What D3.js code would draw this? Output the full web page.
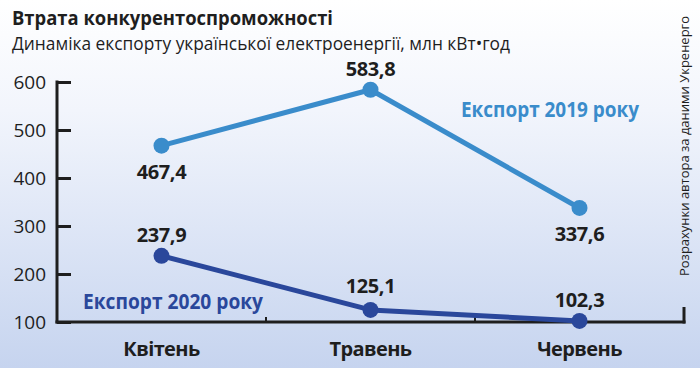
<!DOCTYPE html>
<html><head><meta charset="utf-8">
<script src="https://cdn.jsdelivr.net/npm/d3@7"></script>
<style>body{margin:0;}svg{display:block;}</style>
</head><body>
<svg id="c" width="700" height="368"></svg>
<script>
const months = ["Квітень","Травень","Червень"];
const export2019 = [467.4, 583.8, 337.6];
const export2020 = [237.9, 125.1, 102.3];
const yTicks = [100,200,300,400,500,600];
const labels2019 = ["467,4","583,8","337,6"];
const labels2020 = ["237,9","125,1","102,3"];

const svg = d3.select("#c");
const W = 700, H = 368;
const defs = svg.append("defs");
const g = defs.append("linearGradient").attr("id","bg").attr("x1",0).attr("y1",0).attr("x2",0).attr("y2",1);
g.append("stop").attr("offset","0%").attr("stop-color","#ffffff");
g.append("stop").attr("offset","30%").attr("stop-color","#f2f5fc");
g.append("stop").attr("offset","100%").attr("stop-color","#c6d4ef");
svg.append("rect").attr("width",W).attr("height",H).attr("fill","url(#bg)");

const font = "'Open Sans', 'Noto Sans', sans-serif";
const dark = "#1e1e1e";
const c19 = "#3a8ccb", c20 = "#2a479b";

svg.append("text").attr("x",12).attr("y",25).attr("font-family",font).attr("font-weight","bold")
  .attr("font-size",19.5).attr("fill",dark).attr("textLength",321).attr("lengthAdjust","spacingAndGlyphs")
  .text("Втрата конкурентоспроможності");
svg.append("text").attr("x",12).attr("y",50).attr("font-family",font)
  .attr("font-size",17.5).attr("fill",dark).attr("textLength",498).attr("lengthAdjust","spacingAndGlyphs")
  .text("Динаміка експорту української електроенергії, млн кВт•год");

const x = d3.scaleBand().domain(months).range([57,684]);
const y = d3.scaleLinear().domain([100,600]).range([322,82]);

// y axis
const yAxis = svg.append("g").attr("transform","translate(57,0)")
  .call(d3.axisRight(y).tickValues(yTicks).tickSize(14).tickFormat(""));
yAxis.select(".domain").remove();
yAxis.selectAll("line").attr("stroke",dark).attr("stroke-width",3);
svg.append("line").attr("x1",57).attr("x2",57).attr("y1",y(600)-1.5).attr("y2",y(100)+1.5).attr("stroke",dark).attr("stroke-width",3);
svg.append("g").selectAll("text").data(yTicks).join("text")
  .attr("x",46).attr("y",d=>y(d)+7).attr("text-anchor","end").attr("font-family",font)
  .attr("font-size",19).attr("fill",dark).text(d=>d);

// x axis
svg.append("line").attr("x1",55.5).attr("x2",685.5).attr("y1",y(100)).attr("y2",y(100)).attr("stroke",dark).attr("stroke-width",3);
const bounds = months.slice(1).map(m=>x(m));
svg.append("g").selectAll("line").data(bounds).join("line")
  .attr("x1",d=>d).attr("x2",d=>d).attr("y1",y(100)).attr("y2",y(100)-5).attr("stroke",dark).attr("stroke-width",2);
svg.append("line").attr("x1",684).attr("x2",684).attr("y1",y(100)+1.5).attr("y2",y(100)-15).attr("stroke",dark).attr("stroke-width",3);
svg.append("g").selectAll("text").data(months).join("text")
  .attr("x",d=>x(d)+x.bandwidth()/2).attr("y",356).attr("text-anchor","middle")
  .attr("font-family",font).attr("font-weight","bold").attr("font-size",20).attr("fill",dark)
  .attr("letter-spacing","-0.6").text(d=>d);

const cx = i => x(months[i]) + x.bandwidth()/2;
const line = d3.line().x((d,i)=>cx(i)).y(d=>y(d));

function series(vals, col){
  svg.append("path").datum(vals).attr("d",line).attr("fill","none").attr("stroke",col).attr("stroke-width",5).attr("stroke-linejoin","round");
  svg.append("g").selectAll("circle").data(vals).join("circle")
    .attr("cx",(d,i)=>cx(i)).attr("cy",d=>y(d)).attr("r",8).attr("fill",col);
}
series(export2019, c19);
series(export2020, c20);

// value labels
const off19 = [33, -14, 33];
const off20 = [-14, -17, -14];
function vlabels(vals, labs, offs){
  svg.append("g").selectAll("text").data(vals).join("text")
    .attr("x",(d,i)=>cx(i)).attr("y",(d,i)=>y(d)+offs[i]).attr("text-anchor","middle")
    .attr("font-family",font).attr("font-weight","bold").attr("font-size",20).attr("fill",dark)
    .attr("letter-spacing","-0.4").text((d,i)=>labs[i]);
}
vlabels(export2019, labels2019, off19);
vlabels(export2020, labels2020, off20);

// legends
svg.append("text").attr("x",461).attr("y",117).attr("font-family",font).attr("font-weight","bold")
  .attr("font-size",21).attr("fill",c19).attr("textLength",178).attr("lengthAdjust","spacingAndGlyphs").text("Експорт 2019 року");
svg.append("text").attr("x",83).attr("y",309).attr("font-family",font).attr("font-weight","bold")
  .attr("font-size",21).attr("fill",c20).attr("textLength",180).attr("lengthAdjust","spacingAndGlyphs").text("Експорт 2020 року");

// source
svg.append("text").attr("transform","translate(689,276) rotate(-90)").attr("font-family",font)
  .attr("font-size",13).attr("fill",dark).attr("textLength",260).attr("lengthAdjust","spacingAndGlyphs")
  .text("Розрахунки автора за даними Укренерго");
</script>
</body></html>
